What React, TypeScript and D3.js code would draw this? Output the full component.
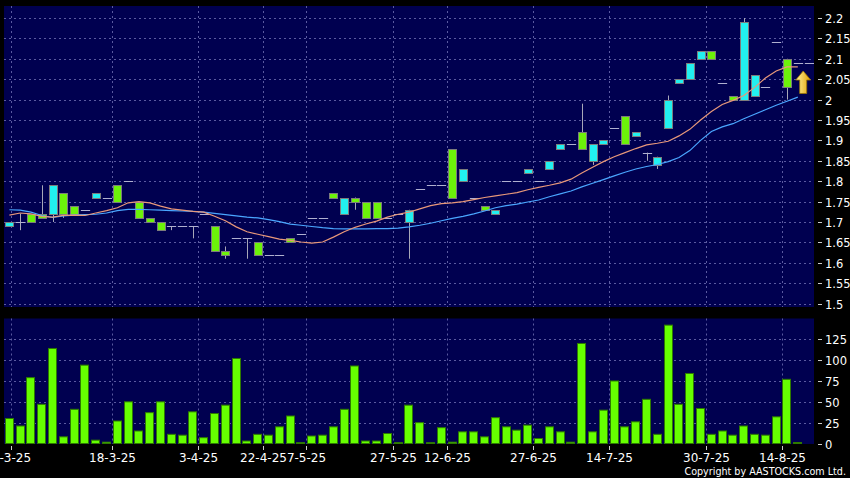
import React, { useEffect, useRef } from 'react';
import * as d3 from 'd3';

// daily OHLC, oldest first (one entry per bar)
const opens = [
  1.69, 1.70, 1.72, 1.72, 1.72, 1.77, 1.74, 1.73, 1.76, 1.76,
  1.79, 1.80, 1.75, 1.71, 1.70, 1.69, 1.69, 1.69, 1.72, 1.69,
  1.63, 1.66, 1.66, 1.65, 1.62, 1.62, 1.66, 1.67, 1.71, 1.71,
  1.77, 1.72, 1.76, 1.75, 1.75, 1.71, 1.72, 1.70, 1.78, 1.79,
  1.79, 1.88, 1.80, 1.76, 1.74, 1.72, 1.80, 1.80, 1.82, 1.80,
  1.83, 1.88, 1.89, 1.92, 1.85, 1.89, 1.93, 1.96, 1.91, 1.87,
  1.84, 1.93, 2.04, 2.05, 2.10, 2.12, 2.04, 2.01, 2.00, 2.01,
  2.03, 2.14, 2.10, 2.09, 2.09,
];
const highs = [
  1.70, 1.72, 1.72, 1.79, 1.79, 1.77, 1.74, 1.73, 1.77, 1.76,
  1.79, 1.80, 1.75, 1.71, 1.70, 1.69, 1.69, 1.69, 1.72, 1.69,
  1.64, 1.66, 1.66, 1.65, 1.62, 1.62, 1.66, 1.67, 1.71, 1.71,
  1.77, 1.76, 1.76, 1.75, 1.75, 1.71, 1.72, 1.73, 1.78, 1.79,
  1.79, 1.88, 1.83, 1.76, 1.74, 1.73, 1.80, 1.80, 1.83, 1.80,
  1.85, 1.89, 1.89, 1.99, 1.89, 1.90, 1.93, 1.96, 1.92, 1.87,
  1.86, 2.01, 2.05, 2.09, 2.12, 2.12, 2.04, 2.01, 2.20, 2.06,
  2.03, 2.14, 2.10, 2.09, 2.09,
];
const lows = [
  1.69, 1.68, 1.70, 1.71, 1.70, 1.71, 1.72, 1.73, 1.76, 1.76,
  1.75, 1.80, 1.71, 1.70, 1.68, 1.68, 1.69, 1.66, 1.72, 1.63,
  1.61, 1.66, 1.61, 1.62, 1.62, 1.62, 1.65, 1.67, 1.71, 1.71,
  1.76, 1.72, 1.73, 1.71, 1.71, 1.71, 1.72, 1.61, 1.78, 1.79,
  1.79, 1.76, 1.80, 1.76, 1.73, 1.72, 1.80, 1.80, 1.82, 1.80,
  1.83, 1.88, 1.89, 1.88, 1.84, 1.89, 1.93, 1.89, 1.91, 1.85,
  1.83, 1.93, 2.04, 2.05, 2.10, 2.10, 2.04, 2.00, 2.00, 2.01,
  2.03, 2.14, 2.00, 2.09, 2.09,
];
const closes = [
  1.70, 1.70, 1.70, 1.71, 1.79, 1.72, 1.72, 1.73, 1.77, 1.76,
  1.75, 1.80, 1.71, 1.70, 1.68, 1.69, 1.69, 1.69, 1.72, 1.63,
  1.62, 1.66, 1.66, 1.62, 1.62, 1.62, 1.65, 1.67, 1.71, 1.71,
  1.76, 1.76, 1.75, 1.71, 1.71, 1.71, 1.72, 1.73, 1.78, 1.79,
  1.79, 1.76, 1.83, 1.76, 1.73, 1.73, 1.80, 1.80, 1.83, 1.80,
  1.85, 1.89, 1.89, 1.88, 1.89, 1.90, 1.93, 1.89, 1.92, 1.87,
  1.86, 2.00, 2.05, 2.09, 2.12, 2.10, 2.04, 2.00, 2.19, 2.06,
  2.03, 2.14, 2.03, 2.09, 2.09,
];
const volumes = [
  30, 21, 79, 47, 114, 8, 41, 94, 4, 1.6,
  27, 50, 15, 37, 50, 11, 10, 38, 7, 36,
  46, 102, 3, 11, 10, 20, 33, 1, 9, 10,
  20, 41, 93, 3, 3, 12, 1, 46, 25, 1,
  19, 1.6, 14, 14, 8, 31, 20, 16, 22, 6,
  20, 14, 1.6, 120, 14, 40, 75, 20, 26, 53,
  11, 142, 47, 84, 42, 11, 15, 10, 21, 11,
  10, 32, 77, 1.2, 0,
];
// moving averages (orange = short, blue = long)
const maShort = [
  1.717, 1.722, 1.720, 1.714, 1.712, 1.716, 1.717, 1.716, 1.722, 1.728,
  1.735, 1.747, 1.750, 1.747, 1.739, 1.732, 1.729, 1.726, 1.724, 1.714,
  1.703, 1.688, 1.676, 1.670, 1.664, 1.658, 1.655, 1.651, 1.648, 1.651,
  1.663, 1.676, 1.687, 1.695, 1.702, 1.712, 1.719, 1.724, 1.732, 1.740,
  1.745, 1.747, 1.750, 1.755, 1.760, 1.764, 1.768, 1.772, 1.779, 1.785,
  1.790, 1.796, 1.805, 1.820, 1.834, 1.848, 1.860, 1.870, 1.880, 1.889,
  1.893, 1.898, 1.911, 1.927, 1.950, 1.971, 1.988, 1.998, 2.010, 2.030,
  2.053, 2.070, 2.080, 2.080,
];
const maLong = [
  1.730, 1.729, 1.724, 1.716, 1.711, 1.715, 1.717, 1.718, 1.719, 1.722,
  1.728, 1.731, 1.731, 1.730, 1.729, 1.728, 1.727, 1.726, 1.724, 1.721,
  1.718, 1.715, 1.712, 1.710, 1.706, 1.701, 1.695, 1.692, 1.689, 1.686,
  1.684, 1.683, 1.683, 1.683, 1.684, 1.684, 1.685, 1.688, 1.692, 1.697,
  1.703, 1.709, 1.714, 1.720, 1.727, 1.735, 1.740, 1.744, 1.749, 1.754,
  1.762, 1.769, 1.776, 1.786, 1.795, 1.804, 1.813, 1.822, 1.830, 1.836,
  1.841, 1.848, 1.858, 1.875, 1.900, 1.922, 1.933, 1.941, 1.953, 1.964,
  1.975, 1.986, 1.996, 2.006,
];
const dateLabels = ['7-3-25', '18-3-25', '3-4-25', '22-4-25', '7-5-25', '27-5-25', '12-6-25', '27-6-25', '14-7-25', '30-7-25', '14-8-25'];
const dateLabelAt = [0.15, 9.5, 17.5, 23.5, 27.5, 35.5, 40.5, 48.5, 55.5, 64.5, 71.5];
const priceTicks = [1.5, 1.55, 1.6, 1.65, 1.7, 1.75, 1.8, 1.85, 1.9, 1.95, 2, 2.05, 2.1, 2.15, 2.2];
const volumeTicks = [0, 25, 50, 75, 100, 125];

const W = 850;
const H = 478;

export default function App() {
  const svgRef = useRef<SVGSVGElement>(null);

  useEffect(() => {
    if (!svgRef.current) return;
    const svg = d3.select(svgRef.current);
    svg.selectAll('*').remove();

    const left = 4, right = 814;
    const pTop = 6, pBot = 307;
    const vTop = 318.5, vBot = 444;
    const n = closes.length;
    const font = 'DejaVu Sans, sans-serif';

    const x = d3.scaleLinear().domain([-0.5, n - 0.5]).range([left, right]);
    const bw = (x(1) - x(0)) * 0.86;
    const yP = d3.scaleLinear().domain([1.5, 2.2]).range([303.6, 18]);
    const yV = d3.scaleLinear().domain([0, 125]).range([443.5, 339.3]);

    svg.append('rect').attr('width', W).attr('height', H).attr('fill', '#000');

    const defs = svg.append('defs');
    defs.append('clipPath').attr('id', 'clipP')
      .append('rect').attr('x', left).attr('y', pTop).attr('width', right - left).attr('height', pBot - pTop);
    const grad = defs.append('linearGradient').attr('id', 'arrowGrad')
      .attr('x1', 0).attr('x2', 1).attr('y1', 0).attr('y2', 0);
    grad.append('stop').attr('offset', '0%').attr('stop-color', '#fff3a0');
    grad.append('stop').attr('offset', '100%').attr('stop-color', '#e0a000');

    // panels
    svg.append('rect').attr('x', left).attr('y', pTop).attr('width', right - left).attr('height', pBot - pTop).attr('fill', '#000050');
    svg.append('rect').attr('x', left).attr('y', vTop).attr('width', right - left).attr('height', vBot - vTop).attr('fill', '#000050');

    const gridColor = '#5a5aa0';
    const grid = svg.append('g').attr('stroke', gridColor).attr('stroke-dasharray', '2,3').attr('stroke-width', 1);
    priceTicks.forEach(t => {
      const yy = Math.round(yP(t)) + 0.5;
      grid.append('line').attr('x1', left).attr('x2', right).attr('y1', yy).attr('y2', yy);
    });
    volumeTicks.filter(t => t > 0).forEach(t => {
      const yy = Math.round(yV(t)) + 0.5;
      grid.append('line').attr('x1', left).attr('x2', right).attr('y1', yy).attr('y2', yy);
    });
    dateLabelAt.forEach(t => {
      const xx = Math.round(x(t)) + 0.5;
      grid.append('line').attr('x1', xx).attr('x2', xx).attr('y1', pTop).attr('y2', pBot);
      grid.append('line').attr('x1', xx).attr('x2', xx).attr('y1', vTop).attr('y2', vBot);
    });

    // candles
    const cg = svg.append('g').attr('clip-path', 'url(#clipP)');
    closes.forEach((c, i) => {
      const o = opens[i], h = highs[i], l = lows[i];
      const cx = Math.round(x(i)) + 0.5;
      if (h > Math.max(o, c) || l < Math.min(o, c)) {
        cg.append('line').attr('x1', cx).attr('x2', cx)
          .attr('y1', yP(h)).attr('y2', yP(l))
          .attr('stroke', '#a8a8b8').attr('stroke-width', 1);
      }
      if (o === c) {
        const yy = Math.round(yP(c)) + 0.5;
        cg.append('line').attr('x1', cx - bw / 2).attr('x2', cx + bw / 2)
          .attr('y1', yy).attr('y2', yy)
          .attr('stroke', '#b0b0d0').attr('stroke-width', 1);
      } else {
        const top = Math.round(yP(Math.max(o, c)));
        const bot = Math.round(yP(Math.min(o, c)));
        cg.append('rect')
          .attr('x', Math.round(cx - bw / 2) + 0.5).attr('y', top + 0.5)
          .attr('width', Math.round(bw) - 1).attr('height', Math.max(bot - top, 2))
          .attr('fill', c > o ? '#22f0f0' : '#6cf20a')
          .attr('stroke', '#7c7c7c').attr('stroke-width', 1);
      }
    });

    // moving averages
    const line = d3.line<number>().x((_, i) => x(i)).y(d => yP(d));
    cg.append('path').datum(maLong).attr('d', line).attr('fill', 'none')
      .attr('stroke', '#4aa6ff').attr('stroke-width', 1.2);
    cg.append('path').datum(maShort).attr('d', line).attr('fill', 'none')
      .attr('stroke', '#e8987a').attr('stroke-width', 1.2);

    // up arrow marker next to the last bar
    const ax = x(n - 1.5);
    const aTip = yP(2.07), aBase = yP(2.015);
    const headH = 9, headW = 7.5, shaftW = 3.5;
    svg.append('path')
      .attr('d', `M${ax},${aTip} L${ax + headW},${aTip + headH} L${ax + shaftW},${aTip + headH} L${ax + shaftW},${aBase} L${ax - shaftW},${aBase} L${ax - shaftW},${aTip + headH} L${ax - headW},${aTip + headH} Z`)
      .attr('fill', 'url(#arrowGrad)').attr('stroke', '#9a7400').attr('stroke-width', 0.8);

    // volume bars
    const vg = svg.append('g');
    volumes.forEach((v, i) => {
      if (v <= 0) return;
      const top = yV(v);
      vg.append('rect')
        .attr('x', Math.round(x(i) - bw / 2) + 0.5).attr('y', top)
        .attr('width', Math.round(bw) - 1).attr('height', yV(0) - top)
        .attr('fill', '#66ff00').attr('stroke', '#2e7a00').attr('stroke-width', 1);
    });

    // right axes
    const axisG = svg.append('g').attr('font-family', font).attr('fill', '#fff');
    priceTicks.forEach(t => {
      const yy = Math.round(yP(t)) + 0.5;
      axisG.append('line').attr('x1', 818).attr('x2', 822).attr('y1', yy).attr('y2', yy).attr('stroke', '#ccc');
      axisG.append('text').attr('x', 825).attr('y', yy).attr('dy', '0.36em')
        .attr('font-size', 11.5).text(d3.format('~g')(t));
    });
    volumeTicks.forEach(t => {
      const yy = Math.round(yV(t)) + 0.5;
      axisG.append('line').attr('x1', 818).attr('x2', 822).attr('y1', yy).attr('y2', yy).attr('stroke', '#ccc');
      axisG.append('text').attr('x', 825).attr('y', yy).attr('dy', '0.36em')
        .attr('font-size', 11.5).text(String(t));
    });

    // date axis
    dateLabels.forEach((lab, k) => {
      const xx = Math.round(x(dateLabelAt[k])) + 0.5;
      axisG.append('line').attr('x1', xx).attr('x2', xx).attr('y1', 446).attr('y2', 450).attr('stroke', '#ccc');
      axisG.append('text').attr('x', xx).attr('y', 462).attr('text-anchor', 'middle')
        .attr('font-size', 12).text(lab);
    });

    axisG.append('text').attr('x', 846).attr('y', 475).attr('text-anchor', 'end')
      .attr('font-size', 9.6).text('Copyright by AASTOCKS.com Ltd.');
  }, []);

  return (
    <div style={{ position: 'absolute', left: 0, top: 0 }}>
      <svg ref={svgRef} width={W} height={H} style={{ display: 'block' }} />
    </div>
  );
}
